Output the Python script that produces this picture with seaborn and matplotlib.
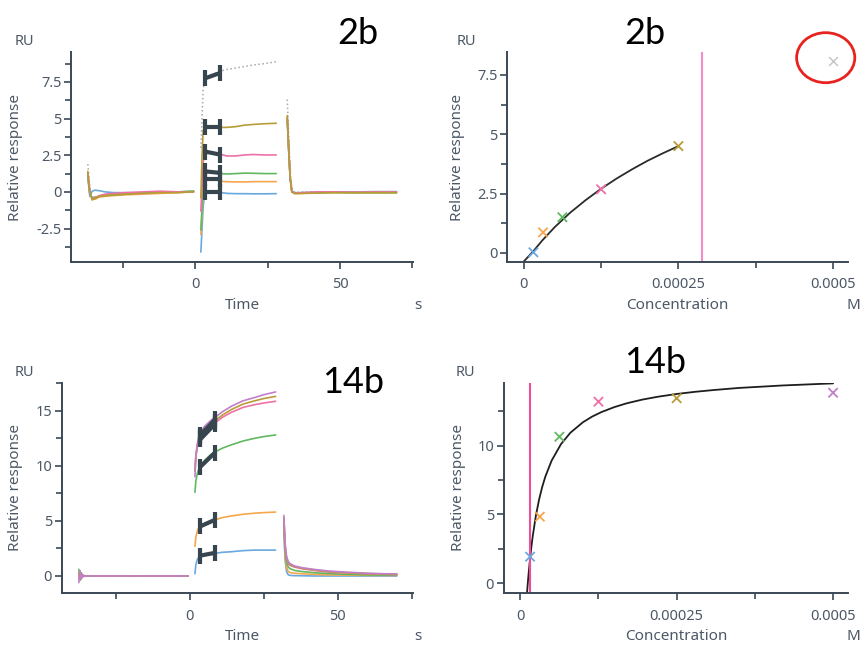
import numpy as np
import pandas as pd
import seaborn as sns
import matplotlib.pyplot as plt
from matplotlib.patches import Ellipse
from matplotlib.ticker import MultipleLocator, FuncFormatter

# ---- sensorgram 2b (time in s, response in RU) ----
T2B_BASE = [-37.0, -36.3, -35.5, -34.5, -33.0, -31.0, -28.0, -24.0, -18.0, -12.0, -6.0, -0.5]
T2B_ASSOC = [2.0, 2.4, 2.8, 3.4, 5.0, 7.0, 9.0, 11.0, 14.0, 17.0, 20.0, 24.0, 28.0]
T2B_DISS = [31.8, 32.3, 32.8, 33.4, 34.5, 37.0, 42.0, 48.0, 55.0, 62.0, 69.5]

RU2B_BLUE = [1.0, -0.3, 0.05, 0.12, 0.08, 0.0, -0.05, -0.05, -0.05, 0.0, 0.0, 0.05,
             -4.1, -2.5, -1.0, 0.0, 0.0, 0.0, -0.05, -0.1, -0.12, -0.12, -0.13, -0.13, -0.12,
             4.9, 2.8, 0.9, 0.0, -0.05, -0.05, -0.02, 0.0, 0.0, 0.02, 0.02]
RU2B_ORANGE = [1.2, -0.1, -0.45, -0.5, -0.35, -0.3, -0.25, -0.2, -0.15, -0.1, -0.05, 0.0,
               -2.9, -1.5, 0.0, 0.85, 0.95, 0.85, 0.72, 0.7, 0.68, 0.68, 0.7, 0.7, 0.7,
               5.0, 2.9, 0.95, 0.0, -0.1, -0.1, -0.05, -0.05, -0.05, -0.05, -0.05]
RU2B_GREEN = [1.1, -0.2, -0.4, -0.35, -0.3, -0.25, -0.2, -0.15, -0.05, 0.0, 0.0, 0.05,
              -2.6, -1.0, 0.6, 1.3, 1.35, 1.3, 1.25, 1.22, 1.25, 1.28, 1.27, 1.25, 1.25,
              5.0, 2.9, 0.95, 0.0, -0.08, -0.08, -0.05, -0.03, -0.05, -0.05, -0.05]
RU2B_PINK = [1.3, -0.05, -0.5, -0.4, -0.25, -0.15, -0.1, -0.05, 0.0, 0.05, 0.0, 0.0,
             -1.3, 0.5, 2.0, 2.6, 2.65, 2.6, 2.55, 2.45, 2.45, 2.52, 2.55, 2.52, 2.52,
             5.1, 3.0, 1.0, 0.0, -0.08, -0.05, 0.0, 0.0, -0.02, 0.0, 0.0]
RU2B_GOLD = [1.4, 0.0, -0.55, -0.45, -0.3, -0.25, -0.2, -0.15, -0.1, -0.05, -0.05, 0.02,
             -0.4, 2.5, 4.2, 4.4, 4.45, 4.45, 4.4, 4.4, 4.45, 4.55, 4.6, 4.65, 4.68,
             5.2, 3.0, 1.0, 0.0, -0.12, -0.1, -0.08, -0.05, -0.06, -0.05, -0.05]
RU2B_GRAY = [1.9, 0.3, -0.4, -0.4, -0.3, -0.2, -0.15, -0.1, -0.05, 0.0, 0.0, 0.0,
             3.0, 5.0, 7.0, 7.75, 7.95, 8.1, 8.25, 8.35, 8.45, 8.55, 8.65, 8.75, 8.88,
             6.3, 4.0, 1.5, 0.2, -0.05, 0.0, 0.0, 0.0, 0.0, 0.0, 0.0]

# report points (early / late) 2b
REP_T = [3.5, 8.5]
REP2B_GRAY = [7.75, 8.1]
REP2B_GOLD = [4.45, 4.45]
REP2B_PINK = [2.75, 2.55]
REP2B_GREEN = [1.4, 1.3]
REP2B_ORANGE = [0.85, 0.85]
REP2B_BLUE = [0.0, 0.0]

# ---- sensorgram 14b ----
T14B_BASE = [-37.6, -37.2, -36.8, -36.4, -36.0, -35.0, -30.0, -20.0, -10.0, -0.6]
T14B_ASSOC = [1.7, 2.0, 2.5, 3.0, 3.5, 5.0, 7.0, 8.5, 11.0, 14.0, 18.0, 22.0, 25.0, 29.0]
T14B_DISS = [31.8, 32.2, 32.7, 33.3, 34.0, 35.5, 38.0, 42.0, 47.0, 53.0, 60.0, 66.0, 70.0]

RU14B_BLUE = [0.1, -0.1, 0.05, 0.0, 0.0, 0.0, 0.0, 0.0, 0.0, 0.0,
              0.2, 1.0, 1.5, 1.7, 1.85, 1.95, 2.0, 2.05, 2.15, 2.2, 2.3, 2.35, 2.35, 2.35,
              4.0, 1.5, 0.4, 0.1, 0.05, 0.03, 0.02, 0.0, 0.0, 0.0, 0.0, 0.0, 0.0]
RU14B_ORANGE = [0.2, -0.2, 0.1, 0.0, 0.0, 0.0, 0.0, 0.0, 0.0, 0.0,
                2.7, 3.5, 4.1, 4.4, 4.55, 4.8, 5.0, 5.1, 5.3, 5.45, 5.6, 5.7, 5.75, 5.8,
                4.5, 2.0, 0.8, 0.4, 0.3, 0.25, 0.2, 0.15, 0.1, 0.08, 0.06, 0.05, 0.05]
RU14B_GREEN = [0.6, -0.4, 0.3, -0.1, 0.05, 0.0, 0.0, 0.0, 0.0, 0.0,
               7.6, 8.6, 9.3, 9.7, 10.0, 10.5, 11.0, 11.25, 11.6, 11.9, 12.25, 12.5, 12.65, 12.8,
               4.8, 2.4, 1.2, 0.8, 0.65, 0.5, 0.4, 0.3, 0.22, 0.15, 0.1, 0.08, 0.06]
RU14B_PINK = [-0.3, 0.3, -0.2, 0.1, 0.0, 0.0, 0.0, 0.0, 0.0, 0.0,
              9.6, 10.9, 11.8, 12.3, 12.6, 13.1, 13.6, 13.9, 14.4, 14.85, 15.3, 15.55, 15.7, 15.85,
              5.2, 2.7, 1.5, 1.1, 0.95, 0.8, 0.65, 0.5, 0.35, 0.27, 0.2, 0.15, 0.12]
RU14B_GOLD = [0.3, -0.3, 0.2, -0.1, 0.0, 0.0, 0.0, -0.02, 0.0, 0.0,
              9.5, 10.8, 11.8, 12.4, 12.7, 13.3, 13.8, 14.1, 14.6, 15.1, 15.6, 15.9, 16.1, 16.3,
              5.3, 2.8, 1.6, 1.2, 1.0, 0.85, 0.7, 0.55, 0.4, 0.3, 0.22, 0.18, 0.15]
RU14B_PURPLE = [-0.6, 0.5, -0.3, 0.15, -0.05, 0.0, 0.0, 0.0, 0.0, 0.0,
                9.0, 10.8, 12.0, 12.6, 13.0, 13.6, 14.1, 14.4, 14.9, 15.4, 15.9, 16.2, 16.45, 16.7,
                5.5, 3.0, 1.8, 1.3, 1.1, 0.9, 0.75, 0.6, 0.45, 0.35, 0.25, 0.2, 0.2]

REP14B_BLUE = [1.85, 2.1]
REP14B_ORANGE = [4.5, 5.1]
REP14B_GREEN = [9.9, 11.2]
REP14B_PINK = [12.4, 13.8]
REP14B_GOLD = [12.6, 14.0]
REP14B_PURPLE = [12.8, 14.2]

# ---- affinity ----
CONC = [1.5625e-5, 3.125e-5, 6.25e-5, 1.25e-4, 2.5e-4, 5e-4]
EQ2B = [0.02, 0.86, 1.5, 2.68, 4.5]
EQ2B_EXCLUDED = [8.07]
EQ14B = [1.93, 4.84, 10.65, 13.2, 13.45, 13.85]
KD_2B = 2.88e-4
KD_14B = 1.55e-5

FIT2B_C = [0, 0.15e-4, 0.3e-4, 0.5e-4, 0.75e-4, 1.0e-4, 1.25e-4, 1.5e-4, 1.75e-4, 2.0e-4, 2.25e-4, 2.5e-4]
FIT2B_R = [-0.37, 0.05, 0.52, 1.08, 1.69, 2.22, 2.70, 3.13, 3.52, 3.88, 4.20, 4.50]
FIT14B_C = [1.07e-5, 1.15e-5, 1.2e-5, 1.3e-5, 1.55e-5, 1.75e-5, 2.0e-5, 2.5e-5, 3.0e-5, 3.5e-5,
            4.0e-5, 5.0e-5, 6.5e-5, 8.0e-5, 1.0e-4, 1.15e-4, 1.3e-4, 1.5e-4, 1.7e-4, 1.95e-4,
            2.2e-4, 2.5e-4, 2.8e-4, 3.1e-4, 3.5e-4, 4.2e-4, 5.0e-4]
FIT14B_R = [-0.74, -0.26, 0.02, 0.56, 1.75, 2.57, 3.47, 4.94, 6.08, 7.0,
            7.75, 8.91, 10.11, 10.94, 11.70, 12.12, 12.45, 12.80, 13.08, 13.35,
            13.56, 13.76, 13.92, 14.05, 14.20, 14.38, 14.53]

COLORS = {"blue": "#6aa8e0", "orange": "#f7a64c", "green": "#5fb95f", "pink": "#ef70a6",
          "gold": "#b79c38", "purple": "#c27fc9", "gray": "#b8b8b8"}
AXC = "#3a4856"
TXC = "#4d5866"
REPC = "#37454f"


def sensor_frame(t_parts, curves):
    t = t_parts[0] + t_parts[1] + t_parts[2]
    phase = ["base"] * len(t_parts[0]) + ["assoc"] * len(t_parts[1]) + ["diss"] * len(t_parts[2])
    rows = []
    for name, vals in curves.items():
        rows.append(pd.DataFrame({"Time": t, "RU": vals, "curve": name, "phase": phase}))
    return pd.concat(rows, ignore_index=True)


def style_axis(ax, xlabel, unit, ru_x, ylab_x, xlab_x=0.5, xlab_y=-0.205):
    sns.despine(ax=ax)
    for s in ["left", "bottom"]:
        ax.spines[s].set_color(AXC)
        ax.spines[s].set_linewidth(1.4)
    ax.tick_params(which="both", colors=AXC, labelcolor=TXC, labelsize=10.5, width=1.2)
    ax.tick_params(which="major", length=5)
    ax.tick_params(which="minor", length=4)
    ax.tick_params(axis="y", pad=2)
    ax.tick_params(axis="x", pad=6)
    ax.yaxis.set_major_formatter(FuncFormatter(lambda v, p: "%g" % round(v, 6)))
    ax.xaxis.set_major_formatter(FuncFormatter(lambda v, p: "%g" % round(v, 6)))
    ax.set_xlabel("")
    ax.set_ylabel("Relative response", color=TXC, fontsize=11)
    ax.yaxis.set_label_coords(ylab_x, 0.5)
    ax.text(ru_x, 1.05, "RU", transform=ax.transAxes, ha="center", va="center", color=TXC, fontsize=10.5)
    ax.text(xlab_x, xlab_y, xlabel, transform=ax.transAxes, ha="center", va="center", color=TXC, fontsize=11)
    ax.text(1.015, xlab_y, unit, transform=ax.transAxes, ha="center", va="center", color=TXC, fontsize=11)


def draw_sensor(ax, df, order, reps):
    for name in order:
        sub = df[df.curve == name]
        sns.lineplot(data=sub, x="Time", y="RU", units="phase", estimator=None, sort=False,
                     color=COLORS[name], lw=1.2, ax=ax, legend=False)
    for y in reps:
        ax.plot(REP_T, y, color=REPC, lw=3, marker="|", ms=11, mew=3, solid_capstyle="butt", zorder=5)


sns.set_theme(style="ticks")
plt.rcParams["font.family"] = ["Noto Sans", "DejaVu Sans"]

fig = plt.figure(figsize=(8.63, 6.46), dpi=100)

# top-left sensorgram 2b
ax1 = fig.add_axes([0.0823, 0.5944, 0.3963, 0.3251])
df2b = sensor_frame([T2B_BASE, T2B_ASSOC, T2B_DISS],
                    {"blue": RU2B_BLUE, "orange": RU2B_ORANGE, "green": RU2B_GREEN,
                     "pink": RU2B_PINK, "gold": RU2B_GOLD})
gray2b = sensor_frame([T2B_BASE, T2B_ASSOC, T2B_DISS], {"gray": RU2B_GRAY})
sns.lineplot(data=gray2b, x="Time", y="RU", units="phase", estimator=None, sort=False,
             color="#a8a8a8", lw=1.1, linestyle=":", ax=ax1, legend=False)
draw_sensor(ax1, df2b, ["blue", "orange", "green", "pink", "gold"],
            [REP2B_GRAY, REP2B_GOLD, REP2B_PINK, REP2B_GREEN, REP2B_ORANGE, REP2B_BLUE])
ax1.set_xlim(-42.8, 75.2)
ax1.set_ylim(-4.78, 9.54)
ax1.xaxis.set_major_locator(MultipleLocator(50))
ax1.xaxis.set_minor_locator(MultipleLocator(25))
ax1.yaxis.set_major_locator(MultipleLocator(2.5))
ax1.yaxis.set_minor_locator(MultipleLocator(1.25))
style_axis(ax1, "Time", "s", -0.137, -0.139)
ax1.text(0.84, 1.09, "2b", transform=ax1.transAxes, ha="center", va="center",
         fontsize=26, color="black", family=["Lato", "DejaVu Sans"])

# top-right affinity 2b
ax2 = fig.add_axes([0.5875, 0.5944, 0.3951, 0.3251])
sns.lineplot(x=FIT2B_C, y=FIT2B_R, color="#2b2b2b", lw=1.3, ax=ax2, sort=False)
ax2.axvline(KD_2B, color="#f28cc6", lw=1.5)
sns.scatterplot(x=CONC[:5], y=EQ2B, hue=["blue", "orange", "green", "pink", "gold"],
                palette=COLORS, marker="x", s=45, linewidth=1.3, ax=ax2, legend=False, zorder=4)
sns.scatterplot(x=CONC[5:], y=EQ2B_EXCLUDED, color="#c6c6c6", marker="x", s=40,
                linewidth=1.1, ax=ax2, legend=False, zorder=4)
ax2.add_patch(Ellipse((4.88e-4, 8.23), width=9.4e-5, height=2.11, fill=False,
                      ec="#e8231f", lw=2, clip_on=False))
ax2.set_xlim(-2.7e-5, 5.24e-4)
ax2.set_ylim(-0.39, 8.47)
ax2.xaxis.set_major_locator(MultipleLocator(2.5e-4))
ax2.xaxis.set_minor_locator(MultipleLocator(1.25e-4))
ax2.yaxis.set_major_locator(MultipleLocator(2.5))
ax2.yaxis.set_minor_locator(MultipleLocator(1.25))
style_axis(ax2, "Concentration", "M", -0.12, -0.122)
ax2.text(0.405, 1.09, "2b", transform=ax2.transAxes, ha="center", va="center",
         fontsize=26, color="black", family=["Lato", "DejaVu Sans"])

# bottom-left sensorgram 14b
ax3 = fig.add_axes([0.0715, 0.0816, 0.4067, 0.326])
df14b = sensor_frame([T14B_BASE, T14B_ASSOC, T14B_DISS],
                     {"blue": RU14B_BLUE, "orange": RU14B_ORANGE, "green": RU14B_GREEN,
                      "pink": RU14B_PINK, "gold": RU14B_GOLD, "purple": RU14B_PURPLE})
draw_sensor(ax3, df14b, ["blue", "orange", "green", "pink", "gold", "purple"],
            [REP14B_BLUE, REP14B_ORANGE, REP14B_GREEN, REP14B_PINK, REP14B_GOLD, REP14B_PURPLE])
ax3.set_xlim(-43.4, 75.4)
ax3.set_ylim(-1.57, 17.54)
ax3.xaxis.set_major_locator(MultipleLocator(50))
ax3.xaxis.set_minor_locator(MultipleLocator(25))
ax3.yaxis.set_major_locator(MultipleLocator(5))
ax3.yaxis.set_minor_locator(MultipleLocator(2.5))
style_axis(ax3, "Time", "s", -0.107, -0.109, xlab_x=0.514, xlab_y=-0.203)
ax3.text(0.83, 1.0, "14b", transform=ax3.transAxes, ha="center", va="center",
         fontsize=26, color="black", family=["Lato", "DejaVu Sans"])

# bottom-right affinity 14b
ax4 = fig.add_axes([0.5837, 0.0816, 0.399, 0.326])
sns.lineplot(x=FIT14B_C, y=FIT14B_R, color="#1e1e1e", lw=1.3, ax=ax4, sort=False)
ax4.axvline(KD_14B, color="#ea4f98", lw=1.5)
sns.scatterplot(x=CONC, y=EQ14B, hue=["blue", "orange", "green", "pink", "gold", "purple"],
                palette=COLORS, marker="x", s=45, linewidth=1.3, ax=ax4, legend=False, zorder=4)
ax4.set_xlim(-2.65e-5, 5.24e-4)
ax4.set_ylim(-0.73, 14.58)
ax4.xaxis.set_major_locator(MultipleLocator(2.5e-4))
ax4.xaxis.set_minor_locator(MultipleLocator(1.25e-4))
ax4.yaxis.set_major_locator(MultipleLocator(5))
ax4.yaxis.set_minor_locator(MultipleLocator(2.5))
style_axis(ax4, "Concentration", "M", -0.11, -0.111, xlab_y=-0.203)
ax4.text(0.44, 1.095, "14b", transform=ax4.transAxes, ha="center", va="center",
         fontsize=26, color="black", family=["Lato", "DejaVu Sans"])

fig.savefig("out.png", dpi=100, facecolor="white")
